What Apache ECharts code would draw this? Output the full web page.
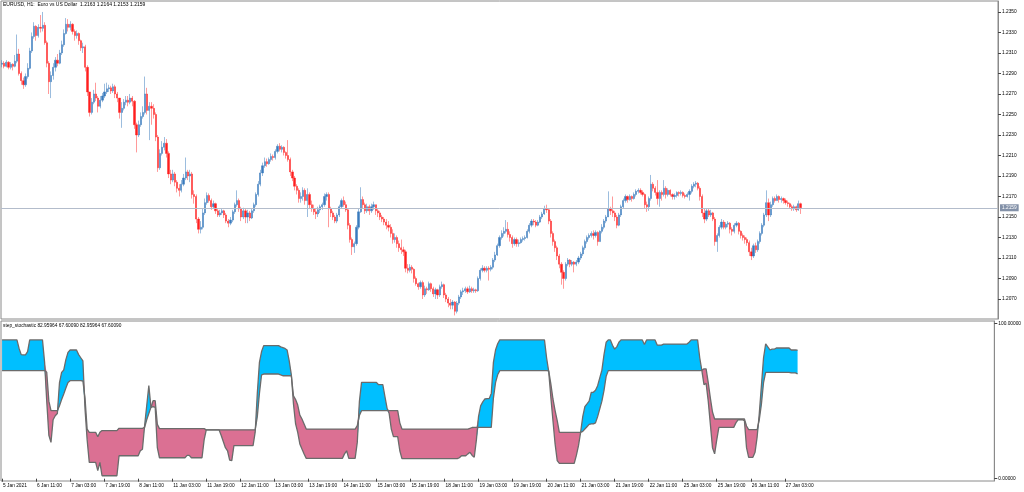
<!DOCTYPE html>
<html><head><meta charset="utf-8">
<script src="https://cdn.jsdelivr.net/npm/echarts@6/dist/echarts.min.js"></script>
<style>html,body{margin:0;padding:0;background:#fff}#c{width:1024px;height:492px}</style>
</head><body><div id="c"></div>
<script>
// ---------- DATA ----------
const timeLabels = ['5 Jan 2021','6 Jan 11:00','7 Jan 03:00','7 Jan 19:00','8 Jan 11:00','11 Jan 03:00','11 Jan 19:00','12 Jan 11:00','13 Jan 03:00','13 Jan 19:00','14 Jan 11:00','15 Jan 03:00','15 Jan 19:00','18 Jan 11:00','19 Jan 03:00','19 Jan 19:00','20 Jan 11:00','21 Jan 03:00','21 Jan 19:00','22 Jan 11:00','25 Jan 03:00','25 Jan 19:00','26 Jan 11:00','27 Jan 03:00'];
const priceTicks = [1.2070,1.2090,1.2110,1.2130,1.2150,1.2170,1.2190,1.2210,1.2230,1.2250,1.2270,1.2290,1.2310,1.2330,1.2350];
const stochTicks = [0,100];
const headerText = 'EURUSD, H1:  Euro vs US Dollar  1.2163 1.2164 1.2153 1.2159';
const indicatorText = 'step_stochastic 82.95964 67.60090 82.95964 67.60090';
const firstOpen = 1.2299;
const bidPrice = 1.2159;

const closes = [
1.2300,1.2297,1.2301,1.2296,1.2299,1.2297,1.2302,1.2309,1.2290,1.2283,
1.2279,1.2287,1.2295,1.2312,1.2326,1.2336,1.2327,1.2335,1.2334,1.2337,
1.2320,1.2300,1.2282,1.2288,1.2296,1.2303,1.2300,1.2310,1.2318,1.2329,
1.2338,1.2335,1.2338,1.2331,1.2327,1.2329,1.2322,1.2315,1.2316,1.2296,
1.2272,1.2252,1.2262,1.2270,1.2266,1.2258,1.2264,1.2268,1.2272,1.2275,
1.2276,1.2273,1.2277,1.2270,1.2266,1.2252,1.2256,1.2262,1.2264,1.2262,
1.2266,1.2263,1.2240,1.2230,1.2240,1.2248,1.2252,1.2270,1.2254,1.2258,
1.2256,1.2250,1.2228,1.2198,1.2212,1.2218,1.2222,1.2212,1.2192,1.2186,
1.2192,1.2184,1.2178,1.2176,1.2182,1.2188,1.2194,1.2190,1.2192,1.2172,
1.2170,1.2148,1.2138,1.2140,1.2154,1.2164,1.2171,1.2166,1.2160,1.2163,
1.2156,1.2152,1.2154,1.2156,1.2152,1.2146,1.2144,1.2147,1.2155,1.2162,
1.2166,1.2158,1.2150,1.2156,1.2150,1.2154,1.2149,1.2156,1.2162,1.2172,
1.2182,1.2193,1.2200,1.2204,1.2202,1.2206,1.2209,1.2208,1.2214,1.2219,
1.2216,1.2218,1.2213,1.2210,1.2206,1.2194,1.2188,1.2180,1.2176,1.2168,
1.2170,1.2176,1.2166,1.2172,1.2162,1.2158,1.2155,1.2153,1.2157,1.2160,
1.2162,1.2170,1.2172,1.2158,1.2154,1.2150,1.2146,1.2152,1.2160,1.2166,
1.2162,1.2157,1.2142,1.2128,1.2121,1.2124,1.2140,1.2155,1.2167,1.2162,
1.2156,1.2160,1.2156,1.2160,1.2162,1.2156,1.2154,1.2150,1.2148,1.2145,
1.2142,1.2140,1.2134,1.2128,1.2130,1.2124,1.2120,1.2118,1.2116,1.2100,
1.2098,1.2101,1.2099,1.2090,1.2085,1.2082,1.2086,1.2074,1.2080,1.2079,
1.2085,1.2080,1.2075,1.2079,1.2074,1.2082,1.2084,1.2074,1.2070,1.2066,
1.2064,1.2067,1.2058,1.2066,1.2072,1.2077,1.2078,1.2080,1.2077,1.2080,
1.2078,1.2079,1.2078,1.2090,1.2098,1.2100,1.2098,1.2100,1.2099,1.2101,
1.2108,1.2113,1.2122,1.2130,1.2134,1.2136,1.2138,1.2133,1.2130,1.2124,
1.2128,1.2124,1.2125,1.2128,1.2129,1.2130,1.2136,1.2142,1.2146,1.2145,
1.2142,1.2145,1.2150,1.2153,1.2158,1.2157,1.2146,1.2134,1.2126,1.2120,
1.2112,1.2104,1.2096,1.2090,1.2104,1.2108,1.2104,1.2106,1.2104,1.2106,
1.2110,1.2114,1.2120,1.2126,1.2130,1.2132,1.2134,1.2132,1.2135,1.2126,
1.2136,1.2140,1.2146,1.2150,1.2158,1.2156,1.2154,1.2150,1.2142,1.2152,
1.2160,1.2166,1.2170,1.2167,1.2170,1.2168,1.2172,1.2175,1.2176,1.2174,
1.2172,1.2162,1.2160,1.2168,1.2182,1.2178,1.2174,1.2168,1.2174,1.2172,
1.2178,1.2172,1.2176,1.2172,1.2170,1.2171,1.2174,1.2173,1.2174,1.2171,
1.2170,1.2172,1.2175,1.2180,1.2182,1.2183,1.2178,1.2170,1.2154,1.2148,
1.2156,1.2152,1.2154,1.2148,1.2126,1.2132,1.2140,1.2145,1.2140,1.2143,
1.2144,1.2138,1.2136,1.2142,1.2144,1.2136,1.2132,1.2130,1.2128,1.2125,
1.2116,1.2112,1.2122,1.2118,1.2126,1.2134,1.2142,1.2152,1.2164,1.2152,
1.2162,1.2168,1.2166,1.2170,1.2167,1.2168,1.2166,1.2164,1.2163,1.2160,
1.2158,1.2160,1.2157,1.2163,1.2159];

const highs = [
1.2303,1.2302,1.2303,1.2302,1.2301,1.2300,1.2308,1.2328,1.2314,1.2292,
1.2286,1.2290,1.2300,1.2315,1.2330,1.2340,1.2337,1.2338,1.2347,1.2350,
1.2340,1.2322,1.2302,1.2292,1.2300,1.2306,1.2309,1.2313,1.2322,1.2333,
1.2344,1.2343,1.2341,1.2339,1.2333,1.2332,1.2330,1.2323,1.2320,1.2318,
1.2298,1.2272,1.2266,1.2274,1.2281,1.2268,1.2268,1.2271,1.2280,1.2281,
1.2279,1.2278,1.2280,1.2279,1.2272,1.2266,1.2262,1.2265,1.2268,1.2268,
1.2270,1.2268,1.2264,1.2242,1.2244,1.2252,1.2258,1.2287,1.2276,1.2262,
1.2262,1.2260,1.2252,1.2230,1.2216,1.2224,1.2228,1.2226,1.2214,1.2196,
1.2196,1.2194,1.2186,1.2182,1.2186,1.2192,1.2208,1.2196,1.2196,1.2194,
1.2176,1.2172,1.2150,1.2146,1.2158,1.2168,1.2174,1.2173,1.2168,1.2166,
1.2164,1.2158,1.2157,1.2158,1.2157,1.2154,1.2148,1.2150,1.2157,1.2164,
1.2176,1.2168,1.2160,1.2159,1.2158,1.2157,1.2156,1.2158,1.2164,1.2174,
1.2185,1.2196,1.2203,1.2208,1.2207,1.2208,1.2212,1.2211,1.2216,1.2221,
1.2222,1.2220,1.2219,1.2214,1.2225,1.2208,1.2196,1.2190,1.2182,1.2178,
1.2174,1.2179,1.2178,1.2178,1.2174,1.2166,1.2162,1.2158,1.2160,1.2162,
1.2164,1.2173,1.2174,1.2174,1.2160,1.2156,1.2152,1.2154,1.2162,1.2168,
1.2170,1.2165,1.2158,1.2144,1.2130,1.2126,1.2142,1.2158,1.2179,1.2170,
1.2164,1.2163,1.2162,1.2163,1.2165,1.2162,1.2158,1.2156,1.2152,1.2150,
1.2148,1.2146,1.2143,1.2138,1.2134,1.2132,1.2127,1.2128,1.2121,1.2118,
1.2104,1.2104,1.2103,1.2100,1.2092,1.2086,1.2088,1.2088,1.2083,1.2082,
1.2087,1.2086,1.2082,1.2081,1.2080,1.2084,1.2087,1.2085,1.2076,1.2072,
1.2070,1.2069,1.2068,1.2068,1.2074,1.2079,1.2081,1.2082,1.2082,1.2083,
1.2082,1.2081,1.2080,1.2092,1.2100,1.2103,1.2102,1.2102,1.2102,1.2103,
1.2110,1.2116,1.2124,1.2132,1.2137,1.2140,1.2147,1.2145,1.2136,1.2132,
1.2130,1.2130,1.2128,1.2130,1.2131,1.2132,1.2138,1.2144,1.2148,1.2148,
1.2147,1.2147,1.2152,1.2155,1.2161,1.2162,1.2158,1.2148,1.2136,1.2128,
1.2122,1.2114,1.2106,1.2098,1.2106,1.2110,1.2109,1.2108,1.2107,1.2108,
1.2112,1.2116,1.2122,1.2128,1.2132,1.2134,1.2136,1.2137,1.2137,1.2136,
1.2137,1.2143,1.2148,1.2152,1.2175,1.2160,1.2170,1.2156,1.2152,1.2154,
1.2162,1.2168,1.2172,1.2171,1.2172,1.2171,1.2174,1.2177,1.2178,1.2178,
1.2176,1.2173,1.2165,1.2170,1.2191,1.2184,1.2180,1.2186,1.2176,1.2176,
1.2186,1.2180,1.2178,1.2177,1.2173,1.2173,1.2175,1.2175,1.2176,1.2175,
1.2173,1.2174,1.2177,1.2182,1.2184,1.2185,1.2184,1.2180,1.2172,1.2158,
1.2158,1.2158,1.2157,1.2155,1.2150,1.2134,1.2142,1.2148,1.2147,1.2145,
1.2146,1.2145,1.2140,1.2144,1.2146,1.2145,1.2137,1.2134,1.2132,1.2130,
1.2127,1.2120,1.2124,1.2125,1.2128,1.2136,1.2144,1.2154,1.2176,1.2168,
1.2165,1.2170,1.2170,1.2172,1.2171,1.2170,1.2169,1.2168,1.2166,1.2164,
1.2162,1.2162,1.2161,1.2166,1.2164];

const lows = [
1.2296,1.2295,1.2296,1.2294,1.2294,1.2293,1.2296,1.2300,1.2288,1.2279,
1.2275,1.2277,1.2285,1.2294,1.2310,1.2324,1.2322,1.2325,1.2330,1.2331,
1.2318,1.2296,1.2270,1.2266,1.2284,1.2292,1.2297,1.2299,1.2308,1.2316,
1.2328,1.2331,1.2332,1.2328,1.2322,1.2324,1.2318,1.2312,1.2310,1.2292,
1.2268,1.2248,1.2250,1.2260,1.2263,1.2252,1.2256,1.2262,1.2266,1.2270,
1.2272,1.2270,1.2271,1.2266,1.2262,1.2246,1.2237,1.2254,1.2259,1.2258,
1.2260,1.2258,1.2236,1.2213,1.2228,1.2238,1.2246,1.2250,1.2250,1.2225,
1.2240,1.2246,1.2224,1.2194,1.2196,1.2210,1.2215,1.2208,1.2188,1.2182,
1.2184,1.2180,1.2174,1.2170,1.2174,1.2180,1.2186,1.2186,1.2184,1.2168,
1.2163,1.2144,1.2134,1.2134,1.2138,1.2152,1.2162,1.2164,1.2157,1.2158,
1.2153,1.2150,1.2150,1.2152,1.2149,1.2144,1.2140,1.2142,1.2145,1.2153,
1.2160,1.2155,1.2146,1.2148,1.2144,1.2144,1.2146,1.2148,1.2154,1.2160,
1.2170,1.2180,1.2190,1.2198,1.2199,1.2201,1.2204,1.2205,1.2206,1.2212,
1.2214,1.2213,1.2210,1.2207,1.2204,1.2190,1.2185,1.2176,1.2172,1.2164,
1.2164,1.2166,1.2162,1.2150,1.2158,1.2155,1.2152,1.2148,1.2150,1.2154,
1.2157,1.2160,1.2166,1.2140,1.2150,1.2147,1.2144,1.2144,1.2150,1.2158,
1.2160,1.2155,1.2138,1.2125,1.2113,1.2115,1.2122,1.2138,1.2154,1.2158,
1.2153,1.2154,1.2152,1.2154,1.2157,1.2152,1.2150,1.2147,1.2145,1.2142,
1.2138,1.2136,1.2130,1.2124,1.2125,1.2120,1.2116,1.2114,1.2112,1.2096,
1.2095,1.2096,1.2095,1.2086,1.2083,1.2079,1.2080,1.2070,1.2072,1.2075,
1.2078,1.2077,1.2072,1.2070,1.2070,1.2072,1.2080,1.2071,1.2067,1.2062,
1.2060,1.2060,1.2054,1.2056,1.2064,1.2070,1.2074,1.2076,1.2075,1.2076,
1.2076,1.2076,1.2076,1.2077,1.2088,1.2096,1.2096,1.2096,1.2088,1.2097,
1.2099,1.2106,1.2112,1.2120,1.2128,1.2131,1.2134,1.2130,1.2126,1.2120,
1.2122,1.2121,1.2121,1.2124,1.2126,1.2127,1.2129,1.2134,1.2140,1.2142,
1.2140,1.2141,1.2144,1.2148,1.2152,1.2154,1.2143,1.2130,1.2122,1.2116,
1.2108,1.2100,1.2084,1.2080,1.2088,1.2102,1.2101,1.2102,1.2096,1.2102,
1.2104,1.2108,1.2112,1.2118,1.2124,1.2128,1.2130,1.2128,1.2130,1.2122,
1.2126,1.2134,1.2138,1.2144,1.2150,1.2152,1.2150,1.2146,1.2139,1.2141,
1.2150,1.2158,1.2164,1.2164,1.2166,1.2165,1.2167,1.2170,1.2173,1.2172,
1.2170,1.2158,1.2155,1.2156,1.2166,1.2175,1.2171,1.2162,1.2160,1.2166,
1.2170,1.2168,1.2170,1.2170,1.2167,1.2167,1.2169,1.2170,1.2171,1.2169,
1.2168,1.2169,1.2166,1.2173,1.2178,1.2179,1.2176,1.2166,1.2150,1.2144,
1.2146,1.2150,1.2150,1.2146,1.2122,1.2116,1.2130,1.2138,1.2138,1.2138,
1.2140,1.2134,1.2132,1.2134,1.2140,1.2133,1.2129,1.2127,1.2124,1.2122,
1.2112,1.2108,1.2110,1.2115,1.2116,1.2124,1.2132,1.2140,1.2150,1.2146,
1.2150,1.2160,1.2164,1.2166,1.2164,1.2164,1.2163,1.2162,1.2160,1.2158,
1.2156,1.2156,1.2155,1.2156,1.2153];

const stochMain = [
89.5,89.5,89.5,89.5,89.5,89.5,89.5,89.5,84,80,
79.8,79.8,82,89.5,89.5,89.5,89.5,89.5,89.5,89.5,
75,50,28,23.4,38,40.6,42,62,68.6,70.1,
76.8,81.5,83,83,83,83,80,78,76,45,
25,10.5,10.5,10.5,10.5,5.2,10.5,1.9,1.9,1.9,
1.9,1.9,1.9,1.9,1.9,14.8,14.8,14.8,14.8,14.8,
14.8,14.8,14.8,14.8,14.8,18,19,34,47,60,
46,46.5,46,20,13.5,13.5,13.5,13.5,13.5,13.5,
13.5,13.5,13.5,13.5,13.5,13.5,13.5,15,15,13.5,
13.5,13.5,13.5,13.5,13.5,25,31.5,31.5,31.5,31.5,
31.5,31.5,31.5,28,24,20,18,12,11.6,21.3,
21.3,21.3,21.3,21.3,21.3,21.3,21.3,21.3,21.3,30,
55,75,82,85.8,85.8,85.8,85.8,85.8,85.8,85.8,
85.8,85,84.5,84,83,76,67,48.2,35.3,29.9,
22.4,19.1,15.9,13.1,13.1,13.1,13.1,13.1,13.1,13.1,
13.1,13.1,13.1,13.1,13.1,13.1,13.1,13.1,13.1,13.1,
13.1,16,18,13.1,13.1,13.1,13.1,23.4,49.9,62.1,
62.1,62.1,62.1,62.1,62.1,62.1,62.1,60.6,60.6,60.6,
53,45.5,42,32,27.1,27.1,27.1,18,12.9,12.9,
12.9,12.9,12.9,12.9,12.9,12.9,12.9,12.9,12.9,12.9,
12.9,12.9,12.9,12.9,12.9,12.9,12.9,12.9,12.9,12.9,
12.9,12.9,12.9,12.9,12.9,13.5,14.8,14.8,14.8,16,
17,15,13.8,25,40,47,49.5,51.4,51.6,51.6,
55,75,83,87,89.5,89.5,89.5,89.5,89.5,89.5,
89.5,89.5,89.5,89.5,89.5,89.5,89.5,89.5,89.5,89.5,
89.5,89.5,89.5,89.5,89.5,89.5,78,69,52.5,37.4,
22.4,11.6,9.9,9.9,9.9,9.9,9.9,9.9,9.9,9.9,
15,21.3,29.9,40,46.5,48.2,50,55.7,55.7,57,
60,65,70,80,88,89.5,89.5,86,83.6,85,
88,89.5,89.5,89.5,89.5,89.5,89.5,89.5,89.5,89.5,
89.5,89.5,86.5,89.5,89.5,89.5,89.5,89.5,86.2,86.2,
86.2,86.8,86.8,86.8,86.8,86.8,86.8,86.8,86.8,86.8,
86.8,86.8,86.8,88,89.5,89.5,89.5,89.5,78,69.7,
60.6,61.5,50,35,20,16,25,33.1,33.1,33.1,
33.1,33.1,33.1,33.1,33.1,36,38,38,38,37.5,
20,13.8,13.8,13.8,17,27,42,60,78,86.9,
85,83,83.5,83.5,84.3,84.3,84.3,84.3,84.3,84.3,
84.3,83,83,83,82.96];

const stochSignal = [
69.7,69.7,69.7,69.7,69.7,69.7,69.7,69.7,69.7,69.7,
69.7,69.7,69.7,69.7,69.7,69.7,69.7,69.7,69.7,69.7,
69.7,68.6,50,43.9,43.9,43.9,43.9,47,51,54.6,
58.5,62.1,63.2,63.2,63.2,63.2,63.2,63.2,63,52,
32,29.9,29.9,29.9,29.9,27,29.9,31,31,31,
31,31,31,31,31,32.5,32.5,32.5,32.5,32.5,
32.5,32.5,32.5,32.5,32.5,32.5,32.5,33,38,42,
46,50.3,50.3,35,32.3,32.3,32.3,32.3,32.3,32.3,
32.3,32.3,32.3,32.3,32.3,32.3,32.3,32.3,32.3,32.3,
32.3,32.3,32.3,32.3,32.3,32.3,31.5,31.5,31.5,31.5,
31.5,31.5,31.5,31.5,31.5,31.5,31.5,31.5,31.5,31.5,
31.5,31.5,31.5,31.5,31.5,31.5,31.5,31.5,31.5,31.5,
40,55,67,67.5,67.5,67.5,67.5,67.5,67.5,67.5,
67.5,67,66.4,66.4,66.4,66.4,66.4,53.5,51,47.5,
41,38.5,35.3,32,32,32,32,32,32,32,
32,32,32,32,32,32,32,32,32,32,
32,32,32,32,32,32,32,34.2,40.8,43.9,
43.9,43.9,43.9,43.9,43.9,43.9,43.9,43.9,43.9,43.9,
43.9,43.9,43.9,43.9,43.9,43.9,43.9,36,32,32,
32,32,32,32,32,32,32,32,32,32,
32,32,32,32,32,32,32,32,32,32,
32,32,32,32,32,32,32,32,32,32,
32.5,33,33.1,33.1,33.1,33.1,33.1,33.1,33.1,33.1,
33.1,52,62,67,69.7,69.7,69.7,69.7,69.7,69.7,
69.7,69.7,69.7,69.7,69.7,69.7,69.7,69.7,69.7,69.7,
69.7,69.7,69.7,69.7,69.7,69.7,69.7,69.5,61.1,51.4,
43.9,37.4,29.9,29.9,29.9,29.9,29.9,29.9,29.9,29.9,
29.9,29.9,29.9,30.5,32,33.5,35,35.3,35.3,36,
40,45,50,57,66,69.7,69.7,69.7,69.7,69.7,
69.7,69.7,69.7,69.7,69.7,69.7,69.7,69.7,69.7,69.7,
69.7,69.7,69.7,69.7,69.7,69.7,69.7,69.7,69.7,69.7,
69.7,69.7,69.7,69.7,69.7,69.7,69.7,69.7,69.7,69.7,
69.7,69.7,69.7,69.7,69.7,69.7,69.7,69.7,69.7,69.9,
70.8,70.8,62,52,43,38.5,38.5,38.5,38.5,38.5,
38.5,38.5,38.5,38.5,38.5,38.5,38.5,38.5,38.5,38.5,
34,31.6,31.6,31.6,31.6,31.6,38,48,62,68.6,
68.6,68.6,68.6,68.6,68.6,68.6,68.6,68.6,68.6,68.6,
68.6,68.2,68.2,68.2,67.6];

// ---------- BUILD ----------
const LABEL_EVERY = 16;       // hourly bars between time labels
const TOTAL_SLOTS = 467;      // bars + empty right-hand shift area
const cats = [];
for (let i = 0; i < TOTAL_SLOTS; i++) cats.push(String(i));
const isLabel = (i) => i % LABEL_EVERY === 0 && i / LABEL_EVERY < timeLabels.length;

const candles = closes.map((c, i) => {
  const o = i === 0 ? firstOpen : closes[i - 1];
  const h = Math.max(highs[i], o, c), l = Math.min(lows[i], o, c);
  return [o, c, l, h];
});
const baseLine = stochMain.map((a, i) => Math.min(a, stochSignal[i]));
const upFill = stochMain.map((a, i) => Math.max(a - stochSignal[i], 0));
const dnFill = stochMain.map((a, i) => Math.max(stochSignal[i] - a, 0));

const FONT = 'Liberation Sans';
const FS = 4.8;
const frame = '#8a8a8a';

const chart = echarts.init(document.getElementById('c'), null, {renderer: 'canvas'});
chart.setOption({
  animation: false,
  backgroundColor: '#ffffff',
  textStyle: {fontFamily: FONT},
  grid: [
    {left: 1, top: 1, width: 997, height: 318, show: true, borderColor: frame, borderWidth: 1, backgroundColor: 'transparent'},
    {left: 1, top: 321, width: 997, height: 160, show: true, borderColor: frame, borderWidth: 1, backgroundColor: 'transparent'}
  ],
  xAxis: [
    {type: 'category', gridIndex: 0, data: cats, boundaryGap: true,
     axisLine: {show: false}, axisTick: {show: false}, axisLabel: {show: false}, splitLine: {show: false}},
    {type: 'category', gridIndex: 1, data: cats, boundaryGap: true,
     axisLine: {show: false},
     axisTick: {show: true, alignWithLabel: true, length: 3, interval: (i) => isLabel(i), lineStyle: {color: '#444', width: 1}},
     axisLabel: {show: true, interval: (i) => isLabel(i), formatter: (v, i) => isLabel(i) ? timeLabels[i / LABEL_EVERY] : '',
       align: 'left', margin: 2, fontSize: FS, fontFamily: FONT, color: '#000', padding: [0, 0, 0, 1]},
     splitLine: {show: false}}
  ],
  yAxis: [
    {type: 'value', gridIndex: 0, position: 'right', min: 1.20505, max: 1.23607,
     axisLine: {show: true, lineStyle: {color: frame}},
     axisTick: {show: true, length: 3, customValues: priceTicks, lineStyle: {color: '#444'}},
     axisLabel: {show: true, customValues: priceTicks, formatter: (v) => v.toFixed(4), margin: 4,
       fontSize: FS, fontFamily: FONT, color: '#000'},
     splitLine: {show: false}},
    {type: 'value', gridIndex: 1, position: 'right', min: -1.5, max: 101.7,
     axisLine: {show: true, lineStyle: {color: frame}},
     axisTick: {show: true, length: 3, customValues: stochTicks, lineStyle: {color: '#444'}},
     axisLabel: {show: true, customValues: stochTicks, formatter: (v) => v.toFixed(5), margin: 4,
       fontSize: FS, fontFamily: FONT, color: '#000'},
     splitLine: {show: false}}
  ],
  graphic: [
    {type: 'text', left: 3, top: 2, silent: true, style: {text: headerText, fontSize: FS + 0.2, fontFamily: FONT, fill: '#000'}},
    {type: 'text', left: 3, top: 323, silent: true, style: {text: indicatorText, fontSize: FS, fontFamily: FONT, fill: '#000'}}
  ],
  series: [
    {type: 'line', name: 'bid', xAxisIndex: 0, yAxisIndex: 0, data: [], symbol: 'none', silent: true,
     markLine: {silent: true, symbol: ['none', 'none'], animation: false, precision: 4,
       data: [{yAxis: bidPrice}],
       lineStyle: {color: '#b3bccb', type: 'solid', width: 1},
       label: {show: true, position: 'end', distance: 2, formatter: () => bidPrice.toFixed(4),
         backgroundColor: '#8391a8', color: '#fff', fontSize: FS, fontFamily: FONT, padding: [1, 2, 1, 2]}}},
    {type: 'candlestick', xAxisIndex: 0, yAxisIndex: 0, data: candles, barWidth: 1.7, z: 3,
     itemStyle: {color: '#3a7bbd', color0: '#ff1e1e', borderColor: 'rgba(58,123,189,0.5)', borderColor0: 'rgba(255,30,30,0.45)', borderWidth: 1}},
    {type: 'line', name: 'base', xAxisIndex: 1, yAxisIndex: 1, data: baseLine, stack: 'st', symbol: 'none',
     lineStyle: {width: 0, opacity: 0}, silent: true, z: 2},
    {type: 'line', name: 'up', xAxisIndex: 1, yAxisIndex: 1, data: upFill, stack: 'st', symbol: 'none',
     lineStyle: {width: 0, opacity: 0}, areaStyle: {color: '#00bfff', opacity: 1}, silent: true, z: 2},
    {type: 'line', name: 'dn', xAxisIndex: 1, yAxisIndex: 1, data: dnFill, stack: 'st', symbol: 'none',
     lineStyle: {width: 0, opacity: 0}, areaStyle: {color: '#db7093', opacity: 1}, silent: true, z: 2},
    {type: 'line', name: 'main', xAxisIndex: 1, yAxisIndex: 1, data: stochMain, symbol: 'none',
     lineStyle: {color: '#6b6b6b', width: 1.3}, silent: true, z: 3},
    {type: 'line', name: 'signal', xAxisIndex: 1, yAxisIndex: 1, data: stochSignal, symbol: 'none',
     lineStyle: {color: '#6b6b6b', width: 1.3}, silent: true, z: 3}
  ]
});
</script>
</body></html>
